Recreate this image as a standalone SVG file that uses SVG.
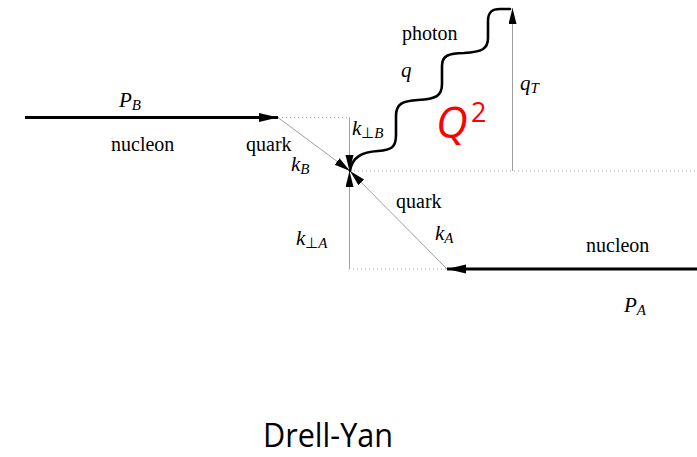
<svg xmlns="http://www.w3.org/2000/svg" width="697" height="457" viewBox="0 0 697 457">
<style>
.txt{font-family:"Liberation Serif","Times New Roman",serif;font-size:20px;fill:#000}
.m{font-family:"Liberation Serif","Times New Roman",serif;font-size:21px;font-style:italic;fill:#000}
.s{font-size:15px}
.up{font-style:normal}
.thick{stroke:#000;stroke-width:2.8;fill:none}
.thin{stroke:#a0a0a0;stroke-width:1;fill:none}
.dot{stroke:#a8a8a8;stroke-width:1;stroke-dasharray:1 3;fill:none}
.photon{stroke:#000;stroke-width:2.6;fill:none;stroke-linecap:round}
</style>
<defs>
<marker id="big" markerUnits="userSpaceOnUse" markerWidth="20" markerHeight="10" refX="19" refY="4.5" orient="auto">
<path d="M0,0 L19,4.5 L0,9 z" fill="#000"/>
</marker>
<marker id="sm" markerUnits="userSpaceOnUse" markerWidth="17" markerHeight="10" refX="16" refY="4" orient="auto">
<path d="M0,0 L16,4 L0,8 z" fill="#000"/>
</marker>
</defs>
<g id="connectors">
<line class="dot" x1="278" y1="117.5" x2="349" y2="117.5"/>
<line class="dot" x1="350" y1="171" x2="697" y2="171"/>
<line class="dot" x1="349" y1="269" x2="447" y2="269"/>
<line class="thick" x1="25" y1="117.5" x2="278" y2="117.5" marker-end="url(#big)"/>
<line class="thick" x1="697" y1="269" x2="447" y2="269" marker-end="url(#big)"/>
<line class="thin" x1="278" y1="117.5" x2="350" y2="171" marker-end="url(#sm)"/>
<line class="thin" x1="349.5" y1="117.5" x2="349.5" y2="171" marker-end="url(#sm)"/>
<line class="thin" x1="349.5" y1="269" x2="349.5" y2="171" marker-end="url(#sm)"/>
<line class="thin" x1="447" y1="269" x2="350" y2="171" marker-end="url(#sm)"/>
<line class="thin" x1="512.5" y1="171" x2="512.5" y2="8" marker-end="url(#sm)"/>
<path class="photon" d="M350,171 C352,157 362,152 378,151 C392,150 396,147 396,135 L396,116 C396,104 402,101 418,100 C436,99 442,96 442,84 L442,66 C442,56 448,53 464,53 C482,52 488,49 488,38 L488,21 C488,12 492,9 500,9 L510,9"/>
</g>
<g id="labels">
<text class="m" x="119" y="107">P<tspan class="s" dy="3">B</tspan></text>
<text class="txt" x="111" y="151">nucleon</text>
<text class="txt" x="246" y="151">quark</text>
<text class="m" x="291" y="171">k<tspan class="s" dy="3">B</tspan></text>
<text class="m" x="352" y="135">k<tspan class="s up" dy="3">⊥</tspan><tspan class="s">B</tspan></text>
<text class="txt" x="402" y="40">photon</text>
<text class="m" x="401" y="77">q</text>
<text x="436" y="138" font-family="Open Sans, sans-serif" font-size="44" font-style="italic" fill="#ff0000">Q</text>
<text x="471" y="122" font-family="Open Sans, sans-serif" font-size="27" fill="#ff0000">2</text>
<text class="m" x="520" y="90">q<tspan class="s" dy="3">T</tspan></text>
<text class="txt" x="396" y="208">quark</text>
<text class="m" x="435" y="240">k<tspan class="s" dy="3">A</tspan></text>
<text class="m" x="296" y="245">k<tspan class="s up" dy="3">⊥</tspan><tspan class="s">A</tspan></text>
<text class="txt" x="586" y="252">nucleon</text>
<text class="m" x="624" y="312">P<tspan class="s" dy="3">A</tspan></text>
<text x="263" y="447" font-family="Open Sans, sans-serif" font-size="32" textLength="130" lengthAdjust="spacingAndGlyphs" fill="#000">Drell-Yan</text>
</g>
</svg>
